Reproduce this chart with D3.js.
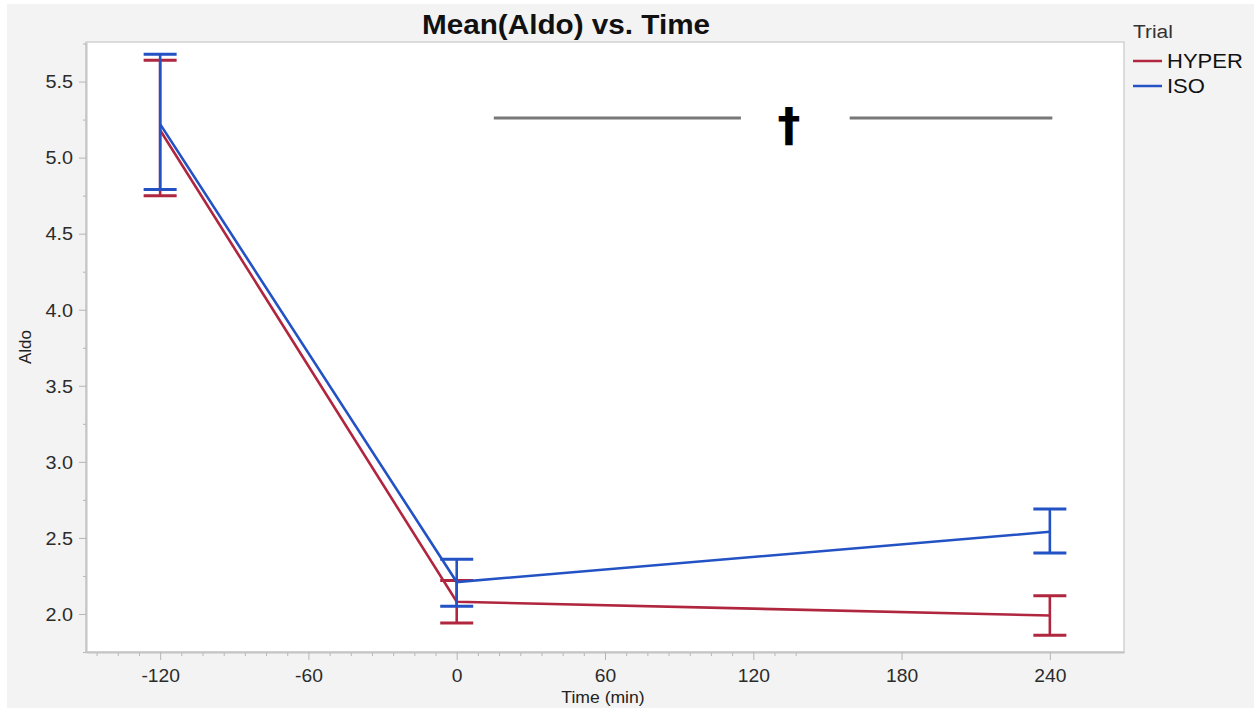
<!DOCTYPE html>
<html>
<head>
<meta charset="utf-8">
<script src="https://cdn.jsdelivr.net/npm/d3@7"></script>
<style>
	body { margin: 0; background: #fff; }
	svg { display: block; font-family: 'Liberation Sans', Arial, sans-serif; }
</style>
</head>
<body>
<script>
// values
var times = [-120, 0, 240];
var hyperMean = [5.18, 2.08, 1.99];
var hyperLow = [4.75, 1.94, 1.86];
var hyperHigh = [5.64, 2.22, 2.12];
var isoMean = [5.22, 2.21, 2.54];
var isoLow = [4.79, 2.05, 2.40];
var isoHigh = [5.68, 2.36, 2.69];
var seriesNames = ['HYPER', 'ISO'];
var seriesColors = ['#b0263f', '#2352c4'];

var xTicks = [-120, -60, 0, 60, 120, 180, 240];
var yTicks = [2.0, 2.5, 3.0, 3.5, 4.0, 4.5, 5.0, 5.5];
var xDomain = [-150, 270];
var yDomain = [1.75, 5.76];

// significance bracket (data units)
var bracketSegments = [[15, 115], [159, 241]];
var bracketLevel = 5.26;
var bracketMarkAt = 134.5;

var width = 1254,
	height = 708,
	plotLeft = 86,
	plotRight = 1124,
	plotTop = 42,
	plotBottom = 652,
	capHalf = 16.5,
	textStretch = 1.1;

var svg = d3.select('body').append('svg')
	.attr('width', width)
	.attr('height', height);

// grey window background
svg.append('rect')
	.attr('x', 7).attr('y', 4)
	.attr('width', width - 7).attr('height', height - 4)
	.attr('fill', '#f3f3f3');

var x = d3.scaleLinear().domain(xDomain).range([plotLeft, plotRight]);
var y = d3.scaleLinear().domain(yDomain).range([plotBottom, plotTop]);

// plot frame
svg.append('rect')
	.attr('x', plotLeft).attr('y', plotTop)
	.attr('width', plotRight - plotLeft).attr('height', plotBottom - plotTop)
	.attr('fill', '#fff')
	.attr('stroke', '#d2d2d2')
	.attr('stroke-width', 1.5);

function stretched(sel, tx, ty) {
	return sel.attr('transform', 'translate(' + tx + ',' + ty + ') scale(' + textStretch + ',1)');
}

// minor ticks (JMP puts 6 minors between the 60 min majors)
var xMinor = [];
for (var k = -30; k <= 30; k++) {
	var v = -120 + k * 60 / 7;
	if (k % 7 !== 0 && v > xDomain[0] && v < xDomain[1]) xMinor.push(v);
}
var yMinor = yTicks.map(function (d) { return d + 0.25; }).filter(function (d) { return d < yDomain[1]; });
yMinor.push(1.75);

svg.append('g')
	.attr('transform', 'translate(0,' + plotBottom + ')')
	.call(d3.axisBottom(x).tickValues(xMinor).tickSize(4).tickSizeOuter(0).tickFormat(''))
	.call(function (g) { g.select('.domain').remove(); g.selectAll('line').attr('stroke', '#b5b5b5'); });

svg.append('g')
	.attr('transform', 'translate(' + plotLeft + ',0)')
	.call(d3.axisLeft(y).tickValues(yMinor).tickSize(3).tickSizeOuter(0).tickFormat(''))
	.call(function (g) { g.select('.domain').remove(); g.selectAll('line').attr('stroke', '#b5b5b5'); });

// x axis
var xAxisEl = svg.append('g')
	.attr('transform', 'translate(0,' + plotBottom + ')')
	.call(d3.axisBottom(x).tickValues(xTicks).tickSize(8).tickSizeOuter(0)
		.tickFormat(function (d) { return String(d); }));
xAxisEl.select('.domain').attr('stroke', '#c4c4c4').attr('stroke-width', 2);
xAxisEl.selectAll('line').attr('stroke', '#b5b5b5');
xAxisEl.selectAll('text')
	.attr('fill', '#2b2b2b')
	.attr('font-size', 17.5)
	.attr('y', 30).attr('dy', 0)
	.attr('transform', 'scale(' + textStretch + ',1)');

// y axis
var yAxisEl = svg.append('g')
	.attr('transform', 'translate(' + plotLeft + ',0)')
	.call(d3.axisLeft(y).tickValues(yTicks).tickSize(7).tickSizeOuter(0).tickFormat(d3.format('.1f')));
yAxisEl.select('.domain').attr('stroke', '#c4c4c4').attr('stroke-width', 2);
yAxisEl.selectAll('line').attr('stroke', '#b5b5b5');
yAxisEl.selectAll('text')
	.attr('fill', '#2b2b2b')
	.attr('font-size', 18)
	.attr('x', -13 / textStretch)
	.attr('dy', '0.35em')
	.attr('transform', 'scale(' + textStretch + ',1)');

// titles
stretched(svg.append('text'), 566, 34)
	.attr('text-anchor', 'middle')
	.attr('font-size', 27)
	.attr('font-weight', 'bold')
	.attr('fill', '#111')
	.text('Mean(Aldo) vs. Time');

stretched(svg.append('text'), 603, 703)
	.attr('text-anchor', 'middle')
	.attr('font-size', 16)
	.attr('fill', '#222')
	.text('Time (min)');

svg.append('text')
	.attr('transform', 'translate(31,' + ((plotTop + plotBottom) / 2) + ') rotate(-90)')
	.attr('text-anchor', 'middle')
	.attr('font-size', 17)
	.attr('fill', '#222')
	.text('Aldo');

// significance bracket
var bracket = svg.append('g');
bracketSegments.forEach(function (s) {
	bracket.append('line')
		.attr('x1', x(s[0])).attr('x2', x(s[1]))
		.attr('y1', y(bracketLevel)).attr('y2', y(bracketLevel))
		.attr('stroke', '#787878')
		.attr('stroke-width', 3);
});
bracket.append('text')
	.attr('x', x(bracketMarkAt))
	.attr('y', y(bracketLevel) + 23)
	.attr('text-anchor', 'middle')
	.attr('font-family', 'DejaVu Sans')
	.attr('font-weight', 'bold')
	.attr('font-size', 46)
	.attr('fill', '#000')
	.text('\u2020');

// series: lines + error bars
var series = [
	{ name: seriesNames[0], color: seriesColors[0], mean: hyperMean, low: hyperLow, high: hyperHigh },
	{ name: seriesNames[1], color: seriesColors[1], mean: isoMean, low: isoLow, high: isoHigh }
];

var line = d3.line()
	.x(function (d) { return x(d[0]); })
	.y(function (d) { return y(d[1]); });

series.forEach(function (s) {
	var g = svg.append('g').attr('stroke', s.color).attr('fill', 'none');
	g.append('path')
		.attr('stroke-width', 2.6)
		.attr('d', line(times.map(function (t, i) { return [t, s.mean[i]]; })));
	times.forEach(function (t, i) {
		var cx = x(t);
		g.append('line')
			.attr('x1', cx).attr('x2', cx)
			.attr('y1', y(s.low[i])).attr('y2', y(s.high[i]))
			.attr('stroke-width', 2.6);
		[s.low[i], s.high[i]].forEach(function (v) {
			g.append('line')
				.attr('x1', cx - capHalf).attr('x2', cx + capHalf)
				.attr('y1', y(v)).attr('y2', y(v))
				.attr('stroke-width', 3);
		});
	});
});

// legend
var legend = svg.append('g').attr('transform', 'translate(1133,0)');
stretched(legend.append('text'), 0, 38)
	.attr('font-size', 19)
	.attr('fill', '#333')
	.text('Trial');
series.forEach(function (s, i) {
	var ly = 61 + i * 25;
	legend.append('line')
		.attr('x1', 0).attr('x2', 29)
		.attr('y1', ly).attr('y2', ly)
		.attr('stroke', s.color)
		.attr('stroke-width', 2.5);
	stretched(legend.append('text'), 34, ly + 7)
		.attr('font-size', 20)
		.attr('fill', '#111')
		.text(s.name);
});
</script>
</body>
</html>
